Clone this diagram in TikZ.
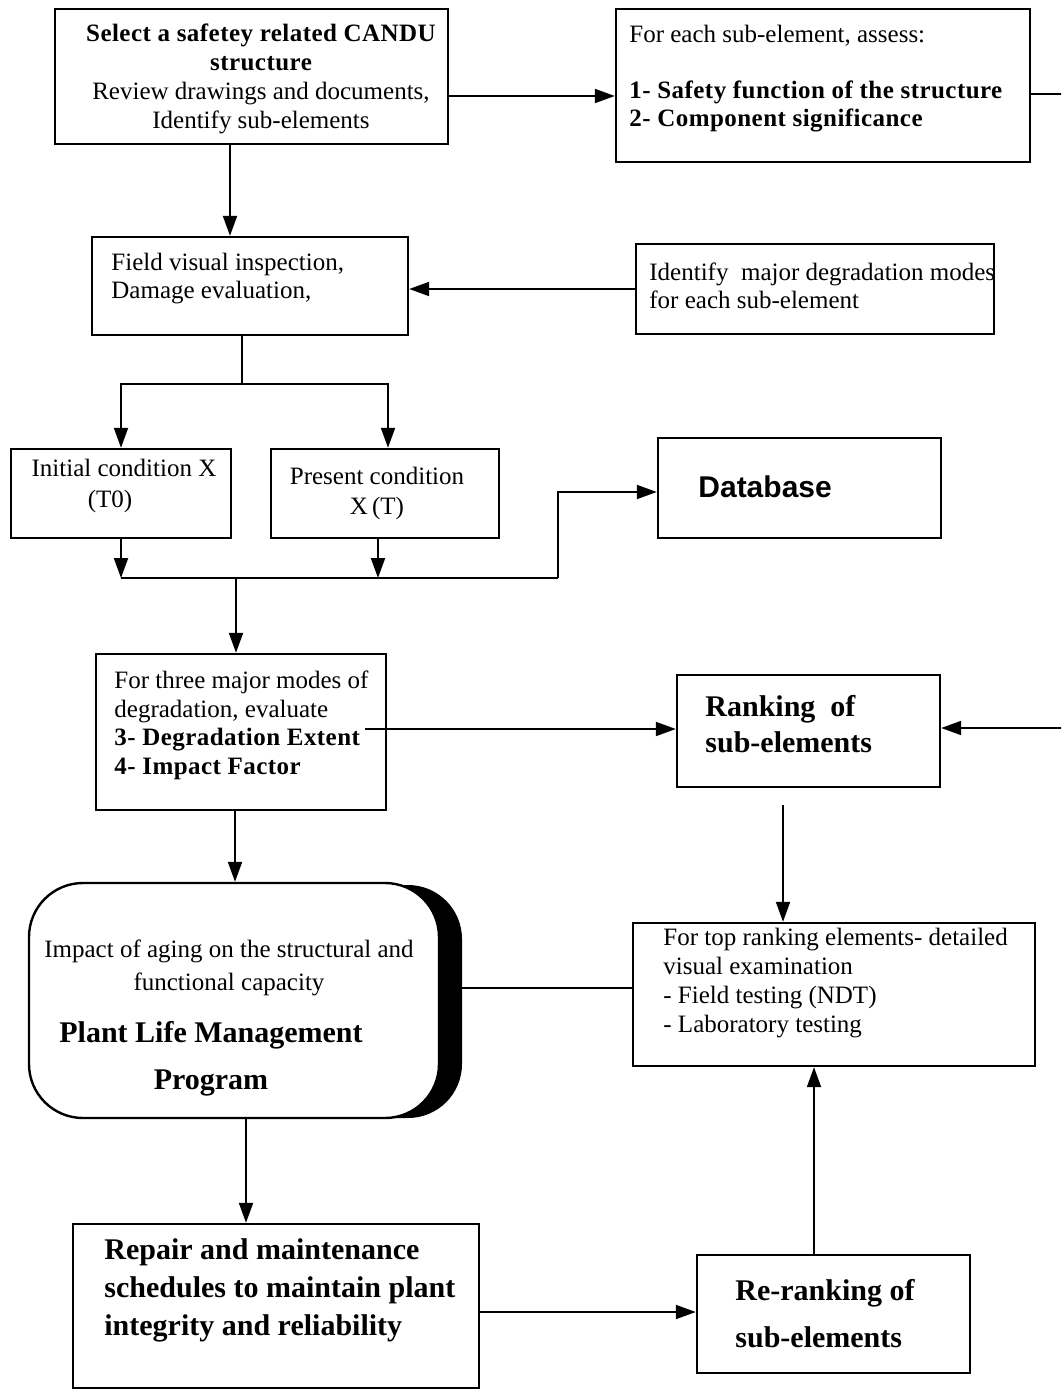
\documentclass[tikz,border=0pt]{standalone}
\usepackage{fontspec}
\setmainfont{Liberation Serif}
\newfontfamily\dbfont{Liberation Sans}
\newfontfamily\spfont{Liberation Serif}[LetterSpace=1.8]
\newcommand{\sbf}[1]{{\spfont\bfseries #1}}
\usetikzlibrary{arrows.meta,fit,calc}
\tikzset{
  box/.style={draw, line width=1.2pt, inner sep=0pt, fill=white},
  con/.style={line width=1pt},
  arr/.style={con, -{Triangle[length=10pt,width=7pt]}},
  txt/.style={inner sep=0pt, font=\fontsize{12.5}{14.5}\selectfont},
  btxt/.style={inner sep=0pt, font=\fontsize{15}{19}\bfseries\selectfont},
}
\begin{document}
\begin{tikzpicture}[x=0.5pt,y=-0.5pt]
\fill[white] (0,0) rectangle (1061,1395);
\clip (0,0) rectangle (1061,1395);

% boxes
\node[box, fit={(55,9) (448,144)}] (A) {};
\node[box, fit={(616,9) (1030,162)}] (B) {};
\node[box, fit={(92,237) (408,335)}] (F) {};
\node[box, fit={(636,244) (994,334)}] (I) {};
\node[box, fit={(11,449) (231,538)}] (IC) {};
\node[box, fit={(271,449) (499,538)}] (PC) {};
\node[box, fit={(658,438) (941,538)}] (DB) {};
\node[box, fit={(96,654) (386,810)}] (T) {};
\node[box, fit={(677,675) (940,787)}] (R) {};
\fill[black, rounded corners=27pt] (52,885) rectangle (462,1118);
\node[box, rounded corners=27pt, fit={(29,883) (439,1118)}] (P) {};
\node[box, fit={(633,923) (1035,1066)}] (TR) {};
\node[box, fit={(73,1224) (479,1388)}] (RM) {};
\node[box, fit={(697,1255) (970,1373)}] (RR) {};

% texts
\node[txt, align=center] (tA) at (261,78.5)
  {\sbf{Select a safetey related CANDU}\\\sbf{structure}\\Review drawings and documents,\\Identify sub-elements};
\node[txt, anchor=west, align=left, font=\fontsize{12.5}{14}\selectfont] (tB) at (629,79)
  {For each sub-element, assess:\\[14pt]\sbf{1- Safety function of the structure}\\\sbf{2- Component significance}};
\node[txt, anchor=west, align=left, font=\fontsize{12.5}{14}\selectfont] (tF) at (111,279)
  {Field visual inspection,\\Damage evaluation,};
\node[txt, anchor=west, align=left, font=\fontsize{12.5}{14}\selectfont] (tI) at (649,286)
  {Identify\ \ major degradation modes\\for each sub-element};
\node[txt, align=center, font=\fontsize{12.5}{15.5}\selectfont] (tIC) at (124,485.5)
  {Initial condition X\\(T0)\hspace*{14pt}};
\node[txt, align=center, font=\fontsize{12.5}{15}\selectfont] (tPC) at (377,493)
  {Present condition\\X\,(T)};
\node[inner sep=0pt, anchor=west, font=\dbfont\fontsize{15}{18}\bfseries\selectfont] (tDB) at (698,487) {Database};
\node[txt, anchor=west, align=left, font=\fontsize{12.5}{14.25}\selectfont] (tT) at (114,725.5)
  {For three major modes of\\degradation, evaluate\\\sbf{3- Degradation Extent}\\\sbf{4- Impact Factor}};
\node[btxt, anchor=west, align=left, font=\fontsize{15}{18}\bfseries\selectfont] (tR) at (705,724)
  {Ranking\ \ of\\sub-elements};
\node[txt, align=center, font=\fontsize{12.5}{16.5}\selectfont] (tP1) at (229,968)
  {Impact of aging on the structural and\\functional capacity};
\node[btxt, align=center, font=\fontsize{15}{23.5}\bfseries\selectfont] (tP2) at (211,1058.5)
  {Plant Life Management\\Program};
\node[txt, anchor=west, align=left, font=\fontsize{12.5}{14.6}\selectfont] (tTR) at (663,983)
  {For top ranking elements- detailed\\visual examination\\- Field testing (NDT)\\- Laboratory testing};
\node[btxt, anchor=west, align=left] (tRM) at (104,1290)
  {Repair and maintenance\\schedules to maintain plant\\integrity and reliability};
\node[btxt, anchor=west, align=left, font=\fontsize{15}{23.5}\bfseries\selectfont] (tRR) at (735,1314)
  {Re-ranking of\\sub-elements};

% helper coordinates
\coordinate (c96) at (0,96);
\coordinate (x230) at (230,0);
\coordinate (c289) at (0,289);
\coordinate (s1) at (242,384);
\coordinate (sL) at (121,384);
\coordinate (sR) at (388,384);
\coordinate (m1) at (121,578);
\coordinate (m2) at (378,578);
\coordinate (m3) at (236,578);
\coordinate (m4) at (558,578);
\coordinate (m5) at (558,492);
\coordinate (t1) at (365,729);
\coordinate (x235) at (235,0);
\coordinate (e1) at (1075,94);
\coordinate (e2) at (1075,728);
\coordinate (r1) at (783,805);
\coordinate (c988) at (0,988);
\coordinate (x246) at (246,0);
\coordinate (c1312) at (0,1312);
\coordinate (x814) at (814,0);

% connectors
\draw[arr] (A.east |- c96) -- (B.west |- c96);
\draw[arr] (A.south -| x230) -- (F.north -| x230);
\draw[arr] (I.west |- c289) -- (F.east |- c289);
\draw[con] (F.south -| s1) -- (s1);
\draw[arr] (s1) -- (sL) -- (IC.north -| sL);
\draw[arr] (s1) -- (sR) -- (PC.north -| sR);
\draw[arr] (IC.south -| m1) -- (m1);
\draw[arr] (PC.south -| m2) -- (m2);
\draw[con] (m1) -- (m4);
\draw[arr] (m4) -- (m5) -- (DB.west |- m5);
\draw[arr] (m3) -- (T.north -| m3);
\draw[arr] (t1) -- (R.west |- t1);
\draw[arr] (T.south -| x235) -- (P.north -| x235);
\draw[arr] (B.east |- e1) -- (e1) -- (e2) -- (R.east |- e2);
\draw[arr] (r1) -- (TR.north -| r1);
\draw[arr] (TR.west |- c988) -- (P.east |- c988);
\draw[arr] (P.south -| x246) -- (RM.north -| x246);
\draw[arr] (RM.east |- c1312) -- (RR.west |- c1312);
\draw[arr] (RR.north -| x814) -- (TR.south -| x814);
\end{tikzpicture}
\end{document}
